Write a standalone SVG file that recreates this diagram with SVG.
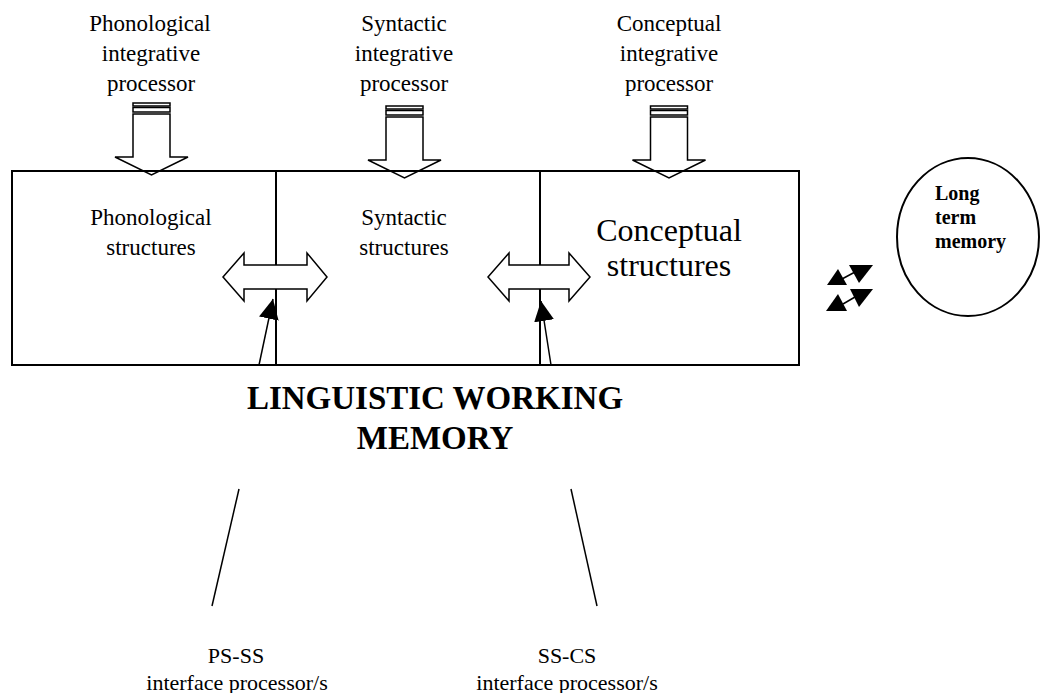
<svg xmlns="http://www.w3.org/2000/svg" width="1042" height="693" viewBox="0 0 1042 693">
<defs>
<style>
text{font-family:"Liberation Serif","Times New Roman",serif;fill:#000;text-anchor:middle}
.t{font-size:23px}
.s{font-size:22px}
.big{font-size:32px}
.lw{font-size:33px;font-weight:bold}
.ltm{font-size:20px;font-weight:bold;text-anchor:start}
.ln{stroke:#000;stroke-width:2;fill:none}
.blk{stroke:#000;stroke-width:1.5;fill:#fff;stroke-linejoin:miter}
.thin{stroke:#000;stroke-width:1.5;fill:none}
.tri{fill:#000;stroke:none}
</style>
<marker id="ah" markerUnits="userSpaceOnUse" markerWidth="20" markerHeight="20" refX="20" refY="10" orient="auto">
<path d="M0,0 L20,10 L0,20 z" fill="#000"/>
</marker>
<g id="downArrow">
<rect class="blk" x="-18.5" y="0" width="37" height="3"/>
<rect class="blk" x="-18.5" y="4.5" width="37" height="4.5"/>
<polygon class="blk" points="-18.5,11 18.5,11 18.5,54 36.5,54 0,72 -36.5,54 -18.5,54"/>
</g>
</defs>

<g id="proc-phon">
<text class="t" x="150" y="31">Phonological</text>
<text class="t" x="151" y="61">integrative</text>
<text class="t" x="151" y="91">processor</text>
<use href="#downArrow" x="151.5" y="103"/>
</g>
<g id="proc-syn">
<text class="t" x="404" y="31">Syntactic</text>
<text class="t" x="404" y="61">integrative</text>
<text class="t" x="404" y="91">processor</text>
<use href="#downArrow" x="404.5" y="106"/>
</g>
<g id="proc-con">
<text class="t" x="669" y="31">Conceptual</text>
<text class="t" x="669" y="61">integrative</text>
<text class="t" x="669" y="91">processor</text>
<use href="#downArrow" x="669" y="106"/>
</g>

<g id="working-memory">
<rect class="ln" x="12" y="171" width="787" height="194"/>
<line class="ln" x1="276" y1="171" x2="276" y2="365"/>
<line class="ln" x1="540" y1="171" x2="540" y2="365"/>
<text class="t" x="151" y="225">Phonological</text>
<text class="t" x="151" y="255">structures</text>
<text class="t" x="404" y="225">Syntactic</text>
<text class="t" x="404" y="255">structures</text>
<text class="big" x="669" y="241">Conceptual</text>
<text class="big" x="669" y="276">structures</text>
<text class="lw" x="435" y="409">LINGUISTIC WORKING</text>
<text class="lw" x="435" y="449">MEMORY</text>
</g>

<g id="ltm">
<ellipse class="ln" cx="968" cy="237" rx="71" ry="79" stroke-width="1.5"/>
<text class="ltm" x="935" y="200">Long</text>
<text class="ltm" x="935" y="224">term</text>
<text class="ltm" x="935" y="248">memory</text>
</g>

<g id="ps-ss">
<text class="s" x="236" y="663">PS-SS</text>
<text class="s" x="237" y="690">interface processor/s</text>
</g>
<g id="ss-cs">
<text class="s" x="567" y="663">SS-CS</text>
<text class="s" x="567" y="690">interface processor/s</text>
</g>

<g id="connectors">
<polygon class="blk" points="223,277 244,253 244,265 307,265 307,253 327,277 307,301 307,289 244,289 244,301"/>
<polygon class="blk" points="488,277 509,253 509,265 569,265 569,253 590,277 569,301 569,289 509,289 509,301"/>
<line class="thin" x1="259" y1="365" x2="273" y2="299" marker-end="url(#ah)"/>
<line class="thin" x1="551" y1="365" x2="541" y2="301" marker-end="url(#ah)"/>
<line class="thin" x1="842" y1="279" x2="855" y2="272"/>
<polygon class="tri" points="827,285 847,285 838,269"/>
<polygon class="tri" points="849,265 873,265 859,283"/>
<line class="thin" x1="843" y1="304" x2="855" y2="297"/>
<polygon class="tri" points="826,311 847,311 838,294"/>
<polygon class="tri" points="850,289 873,289 859,307"/>
<line class="thin" x1="239" y1="489" x2="212" y2="606"/>
<line class="thin" x1="571" y1="489" x2="597" y2="606"/>
</g>
</svg>
